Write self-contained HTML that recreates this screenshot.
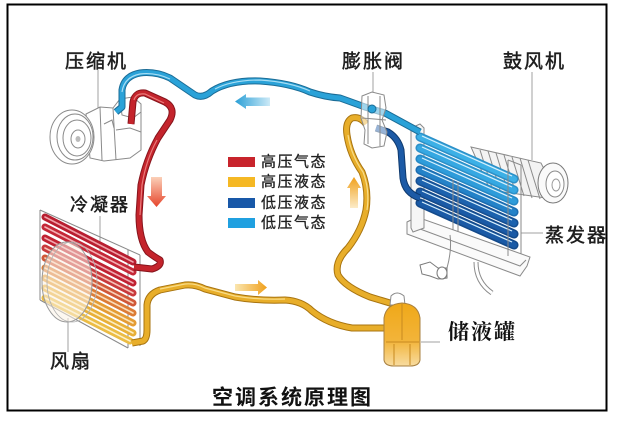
<!DOCTYPE html>
<html><head><meta charset="utf-8"><style>
html,body{margin:0;padding:0;background:#fff;}
svg{display:block;}
.lbl{font-family:"Liberation Sans","Noto Sans CJK SC",sans-serif;fill:#1e1e1e;stroke:#1e1e1e;stroke-width:0.5;font-size:19px;letter-spacing:2px;}
.leg{font-family:"Liberation Sans","Noto Sans CJK SC",sans-serif;fill:#222;stroke:#222;stroke-width:0.3;font-size:15px;letter-spacing:1.5px;}
.ln{stroke:#a0a0a0;stroke-width:1;fill:none;}
.ga{stroke:#8a8a8a;stroke-width:1;fill:#fff;}
.gl{stroke:#8a8a8a;stroke-width:1;fill:none;}
</style></head><body>
<svg width="618" height="421" viewBox="0 0 618 421" xmlns="http://www.w3.org/2000/svg">
<defs>
<linearGradient id="gBlueA" x1="0" x2="1" y1="0" y2="0"><stop offset="0" stop-color="#2a9fd6"/><stop offset="1" stop-color="#cdeaf7"/></linearGradient>
<linearGradient id="gRedA" x1="0" x2="0" y1="0" y2="1"><stop offset="0" stop-color="#fbd0b8"/><stop offset="1" stop-color="#e6452c"/></linearGradient>
<linearGradient id="gYelA" x1="0" x2="1" y1="0" y2="0"><stop offset="0" stop-color="#fae6b0"/><stop offset="1" stop-color="#f0a01c"/></linearGradient>
<linearGradient id="gYelU" x1="0" x2="0" y1="0" y2="1"><stop offset="0" stop-color="#f0a01c"/><stop offset="1" stop-color="#fcecc8"/></linearGradient>
<linearGradient id="gRecv" x1="0" x2="0" y1="0" y2="1"><stop offset="0" stop-color="#f0a818"/><stop offset="0.6" stop-color="#f2b43a"/><stop offset="1" stop-color="#f8dca0"/></linearGradient>
</defs>

<rect x="7.5" y="4.5" width="599" height="406" fill="#fff" stroke="#000" stroke-width="2"/>

<line class="ln" x1="98" y1="70" x2="98" y2="117"/>
<line class="ln" x1="373" y1="72" x2="373" y2="93"/>
<line class="ln" x1="532" y1="72" x2="532" y2="160"/>
<line class="ln" x1="100" y1="216" x2="100" y2="258"/>
<line class="ln" x1="68" y1="318" x2="68" y2="352"/>
<line class="ln" x1="521" y1="233" x2="543" y2="233"/>
<line class="ln" x1="421" y1="342" x2="440" y2="342"/>

<path d="M471,147 L541,163 L560,200 L490,190 Z" fill="#f3f3f3" stroke="#8a8a8a" stroke-width="1"/>
<g class="gl">
<line x1="480" y1="150" x2="492" y2="188"/><line x1="488" y1="151" x2="500" y2="190"/>
<line x1="496" y1="153" x2="508" y2="192"/><line x1="504" y1="155" x2="516" y2="194"/>
<line x1="512" y1="157" x2="524" y2="196"/><line x1="520" y1="158" x2="532" y2="198"/>
<line x1="528" y1="160" x2="540" y2="199"/>
</g>
<ellipse cx="553" cy="183" rx="15" ry="20" fill="#fafafa" stroke="#7a7a7a" stroke-width="1"/>
<ellipse cx="555" cy="184" rx="9" ry="13" fill="#fff" stroke="#8a8a8a" stroke-width="1"/>
<ellipse cx="556" cy="185" rx="4" ry="6" fill="none" stroke="#999" stroke-width="1"/>

<polygon points="407,222 417,217 530,257 527,266 520,276 407,234" fill="#fafafa" stroke="#8a8a8a" stroke-width="1"/>
<polyline class="gl" points="412,226 520,266 526,260"/>
<path d="M476,262 Q476,282 492,293" stroke="#8a8a8a" stroke-width="5" fill="none"/>
<path d="M476,262 Q476,282 492,293" stroke="#fff" stroke-width="3" fill="none"/>
<path class="gl" d="M447,268 Q452,250 450,235"/>
<path d="M420,265 L430,262 L438,268 L447,268 L447,278 L438,279 L430,276 L422,274 Z" fill="#fff" stroke="#7a7a7a" stroke-width="1"/>
<ellipse cx="442" cy="273" rx="5" ry="6" fill="#fff" stroke="#7a7a7a"/>

<path d="M411,128 L420,124 L424,128 L424,228 L413,232 L411,228 Z" fill="#f6f6f6" stroke="#8a8a8a" stroke-width="1"/>
<g stroke-linecap="round">
<line x1="420" y1="137" x2="514" y2="179" stroke="#2c90c8" stroke-width="9"/>
<line x1="420" y1="137" x2="514" y2="179" stroke="#3cb0e6" stroke-width="6"/>
<line x1="420" y1="148" x2="514" y2="190" stroke="#2c90c8" stroke-width="9"/>
<line x1="420" y1="148" x2="514" y2="190" stroke="#36a8e2" stroke-width="6"/>
<line x1="420" y1="159" x2="514" y2="201" stroke="#2688c4" stroke-width="9"/>
<line x1="420" y1="159" x2="514" y2="201" stroke="#2e9cda" stroke-width="6"/>
<line x1="420" y1="170" x2="514" y2="212" stroke="#1c6cb0" stroke-width="9"/>
<line x1="420" y1="170" x2="514" y2="212" stroke="#2482c8" stroke-width="6"/>
<line x1="420" y1="181" x2="514" y2="223" stroke="#164f92" stroke-width="9"/>
<line x1="420" y1="181" x2="514" y2="223" stroke="#1c62ae" stroke-width="6"/>
<line x1="420" y1="192" x2="514" y2="234" stroke="#144a8a" stroke-width="9"/>
<line x1="420" y1="192" x2="514" y2="234" stroke="#1a5aa6" stroke-width="6"/>
<line x1="420" y1="203" x2="514" y2="245" stroke="#144a8a" stroke-width="9"/>
<line x1="420" y1="203" x2="514" y2="245" stroke="#1a5aa6" stroke-width="6"/>
</g>
<g stroke="#d8f0fc" stroke-width="1.2">
<line x1="422" y1="136" x2="512" y2="176"/><line x1="422" y1="147" x2="512" y2="187"/>
<line x1="422" y1="158" x2="512" y2="198"/><line x1="422" y1="169" x2="512" y2="209"/>
<line x1="422" y1="180" x2="512" y2="220"/><line x1="422" y1="191" x2="512" y2="231"/>
<line x1="422" y1="202" x2="512" y2="242"/>
</g>
<g class="gl">
<line x1="508" y1="160" x2="508" y2="256"/><line x1="521" y1="165" x2="521" y2="254"/>
<line x1="508" y1="160" x2="521" y2="165"/>
<line x1="453" y1="180" x2="453" y2="230"/><line x1="458" y1="182" x2="458" y2="232"/>
</g>

<g class="gl">
<line x1="40" y1="210" x2="140" y2="255"/>
<line x1="128" y1="250" x2="128" y2="348"/>
<line x1="140" y1="255" x2="140" y2="346"/>
<line x1="40" y1="210" x2="40" y2="300"/>
<line x1="40" y1="300" x2="128" y2="348"/>
</g>
<g stroke-linecap="round">
<line x1="45" y1="217" x2="133" y2="262" stroke="#b81e30" stroke-width="7"/>
<line x1="45" y1="217" x2="133" y2="262" stroke="#f0a0a8" stroke-width="1.6"/>
<line x1="45" y1="227" x2="133" y2="272" stroke="#c42838" stroke-width="7"/>
<line x1="45" y1="227" x2="133" y2="272" stroke="#f4b0b4" stroke-width="1.6"/>
<line x1="45" y1="238" x2="133" y2="283" stroke="#c02232" stroke-width="7"/>
<line x1="45" y1="238" x2="133" y2="283" stroke="#f0a8b0" stroke-width="1.6"/>
<line x1="45" y1="248" x2="133" y2="293" stroke="#c83a3c" stroke-width="7"/>
<line x1="45" y1="248" x2="133" y2="293" stroke="#f6c0b8" stroke-width="1.6"/>
<line x1="45" y1="258" x2="133" y2="303" stroke="#d05838" stroke-width="7"/>
<line x1="45" y1="258" x2="133" y2="303" stroke="#f8d0b8" stroke-width="1.6"/>
<line x1="45" y1="268" x2="133" y2="313" stroke="#dc7c36" stroke-width="7"/>
<line x1="45" y1="268" x2="133" y2="313" stroke="#fadcb8" stroke-width="1.6"/>
<line x1="45" y1="278" x2="133" y2="323" stroke="#e49c34" stroke-width="7"/>
<line x1="45" y1="278" x2="133" y2="323" stroke="#fbe4b8" stroke-width="1.6"/>
<line x1="45" y1="288" x2="133" y2="333" stroke="#e8b038" stroke-width="7"/>
<line x1="45" y1="288" x2="133" y2="333" stroke="#fcecc0" stroke-width="1.6"/>
<line x1="45" y1="298" x2="130" y2="341" stroke="#ebbc44" stroke-width="7"/>
<line x1="45" y1="298" x2="130" y2="341" stroke="#fdf0c8" stroke-width="1.6"/>
</g>
<ellipse cx="67" cy="282" rx="25" ry="40" fill="#fbf2e6" fill-opacity="0.55" stroke="#9a9a9a" stroke-width="1"/>
<ellipse cx="72" cy="282" rx="25" ry="40" fill="none" stroke="#b0b0b0" stroke-width="0.8"/>

<path d="M86,114 L100,107 L113,108 L120,99 L133,97 L141,104 L141,150 L130,158 L104,161 L90,158 Z" class="ga"/>
<g class="gl">
<line x1="100" y1="107" x2="102" y2="160"/>
<line x1="113" y1="108" x2="116" y2="160"/>
<path d="M120,99 L122,115 L133,118 L141,112"/>
<path d="M116,130 L130,128 L141,132"/>
<path d="M104,124 L112,120 L114,128"/>
</g>
<ellipse cx="72" cy="137" rx="22" ry="27" class="ga"/>
<ellipse cx="75" cy="137" rx="18" ry="23" class="gl"/>
<ellipse cx="77" cy="138" rx="14" ry="18" class="gl"/>
<ellipse cx="78" cy="139" rx="7" ry="9" class="gl"/>
<ellipse cx="78" cy="139" rx="2.5" ry="3" fill="#bbb"/>

<path d="M116,112 L122,107 L122,90 Q124,76 140,73 Q155,71 170,78 L195,95 Q203,99 212,91 Q230,80 260,81 Q290,83 310,92 Q325,97 340,98 L365,107 L385,113 L420,132" fill="none" stroke="#1b6c96" stroke-width="7" stroke-linejoin="round"/>
<path d="M116,112 L122,107 L122,90 Q124,76 140,73 Q155,71 170,78 L195,95 Q203,99 212,91 Q230,80 260,81 Q290,83 310,92 Q325,97 340,98 L365,107 L385,113 L420,132" fill="none" stroke="#2aa2d8" stroke-width="5" stroke-linejoin="round"/>
<path d="M122,92 Q124,77 140,74 Q155,72 170,79 M215,89 Q232,80 260,80 Q290,82 310,91" fill="none" stroke="#a8def4" stroke-width="1.2"/>

<path d="M131,124 L133,102 Q135,92 145,93 L165,102 Q176,108 170,120 L158,138 Q146,160 141,185 L139,215 Q139,240 148,252 Q156,258 160,260 Q162,266 152,269 L134,267" fill="none" stroke="#86141c" stroke-width="7" stroke-linejoin="round"/>
<path d="M131,124 L133,102 Q135,92 145,93 L165,102 Q176,108 170,120 L158,138 Q146,160 141,185 L139,215 Q139,240 148,252 Q156,258 160,260 Q162,266 152,269 L134,267" fill="none" stroke="#c4242c" stroke-width="5" stroke-linejoin="round"/>
<path d="M134,100 Q136,93 145,94 L164,103 M157,140 Q146,160 142,185 L140,215" fill="none" stroke="#ea7a7a" stroke-width="1.2"/>

<path d="M132,343 L143,341 Q147,339 147,330 L147,305 Q148,294 160,290 L185,285 Q195,284 205,289 L235,297 Q258,301 285,300 Q302,301 312,311 Q328,324 352,328 L386,328" fill="none" stroke="#a87410" stroke-width="7" stroke-linejoin="round"/>
<path d="M132,343 L143,341 Q147,339 147,330 L147,305 Q148,294 160,290 L185,285 Q195,284 205,289 L235,297 Q258,301 285,300 Q302,301 312,311 Q328,324 352,328 L386,328" fill="none" stroke="#e8ae2a" stroke-width="5" stroke-linejoin="round"/>
<path d="M160,289 L185,284 Q195,283 205,288 L235,296 Q258,300 285,299" fill="none" stroke="#f8dc88" stroke-width="1.2"/>

<path d="M366,124 Q360,116 352,118 Q345,122 347,135 Q350,155 362,172 Q369,190 366,210 Q362,230 348,248 Q334,262 338,275 Q345,287 370,297 L400,306" fill="none" stroke="#a87410" stroke-width="7" stroke-linejoin="round"/>
<path d="M366,124 Q360,116 352,118 Q345,122 347,135 Q350,155 362,172 Q369,190 366,210 Q362,230 348,248 Q334,262 338,275 Q345,287 370,297 L400,306" fill="none" stroke="#e8ae2a" stroke-width="5" stroke-linejoin="round"/>
<path d="M348,135 Q351,155 363,172 Q370,190 367,210" fill="none" stroke="#f8dc88" stroke-width="1.2"/>

<path d="M376,128 L388,132 Q398,138 401,150 L403,178 Q405,193 420,198" fill="none" stroke="#0f3a6e" stroke-width="7" stroke-linejoin="round"/>
<path d="M376,128 L388,132 Q398,138 401,150 L403,178 Q405,193 420,198" fill="none" stroke="#1c5aa6" stroke-width="5" stroke-linejoin="round"/>

<path d="M362,96 L372,92 L384,95 L386,108 L382,120 L387,132 L384,146 L372,148 L364,144 L365,130 L361,118 Z" fill="#ffffff" fill-opacity="0.55" stroke="#8a8a8a" stroke-width="1"/>
<g class="gl"><line x1="368" y1="96" x2="368" y2="144"/><line x1="380" y1="96" x2="380" y2="146"/><line x1="362" y1="118" x2="386" y2="120"/></g>
<circle cx="372" cy="109" r="4" fill="#2aa2d8" stroke="#1b6c96"/>

<path d="M391,296 Q397,290 404,296 L405,305 L390,305 Z" fill="#fff" stroke="#8a8a8a" stroke-width="1"/>
<path d="M384,318 Q386,304 402,303 Q418,304 420,318 L420,360 Q419,366 410,366 L394,366 Q385,366 384,360 Z" fill="url(#gRecv)" stroke="#a88040" stroke-width="1"/>
<g stroke="#c88a20" stroke-width="1" fill="none">
<line x1="402" y1="304" x2="402" y2="340"/>
<line x1="386" y1="342" x2="419" y2="342"/>
<line x1="394" y1="344" x2="394" y2="365"/><line x1="410" y1="344" x2="410" y2="365"/>
</g>

<polygon points="235,101.5 246,94 246,97.5 270,97.5 270,106 246,106 246,109" fill="url(#gBlueA)"/>
<polygon points="151,177 162,177 162,196 166,196 156.5,207 147,196 151,196" fill="url(#gRedA)"/>
<polygon points="235,284 258,284 258,280 267,287.5 258,295 258,291 235,291" fill="url(#gYelA)"/>
<polygon points="354,177 361,188 358,188 358,208 350,208 350,188 347,188" fill="url(#gYelU)"/>

<rect x="228" y="157" width="27" height="10" fill="#c8242c"/>
<rect x="228" y="177" width="27" height="10" fill="#f5b824"/>
<rect x="228" y="198" width="27" height="10" fill="#1858a8"/>
<rect x="228" y="218" width="27" height="10" fill="#20a0e0"/>
<text class="leg" x="261" y="162" dominant-baseline="central">高压气态</text>
<text class="leg" x="261" y="182" dominant-baseline="central">高压液态</text>
<text class="leg" x="261" y="203" dominant-baseline="central">低压液态</text>
<text class="leg" x="261" y="223" dominant-baseline="central">低压气态</text>

<text class="lbl" x="65" y="62" dominant-baseline="central">压缩机</text>
<text class="lbl" x="342" y="62" dominant-baseline="central">膨胀阀</text>
<text class="lbl" x="503" y="62" dominant-baseline="central">鼓风机</text>
<text class="lbl" x="70" y="205" dominant-baseline="central" style="font-size:18px">冷凝器</text>
<text class="lbl" x="50" y="362" dominant-baseline="central">风扇</text>
<text class="lbl" x="545" y="236" dominant-baseline="central">蒸发器</text>
<text x="448" y="332" dominant-baseline="central" style="font-family:'Liberation Serif','Noto Serif CJK SC',serif;font-weight:bold;font-size:21px;letter-spacing:2px;fill:#111">储液罐</text>
<text x="212" y="398" dominant-baseline="central" style="font-family:'Liberation Sans','Noto Sans CJK SC',sans-serif;font-weight:bold;font-size:21px;letter-spacing:2px;fill:#111">空调系统原理图</text>
</svg>
</body></html>
